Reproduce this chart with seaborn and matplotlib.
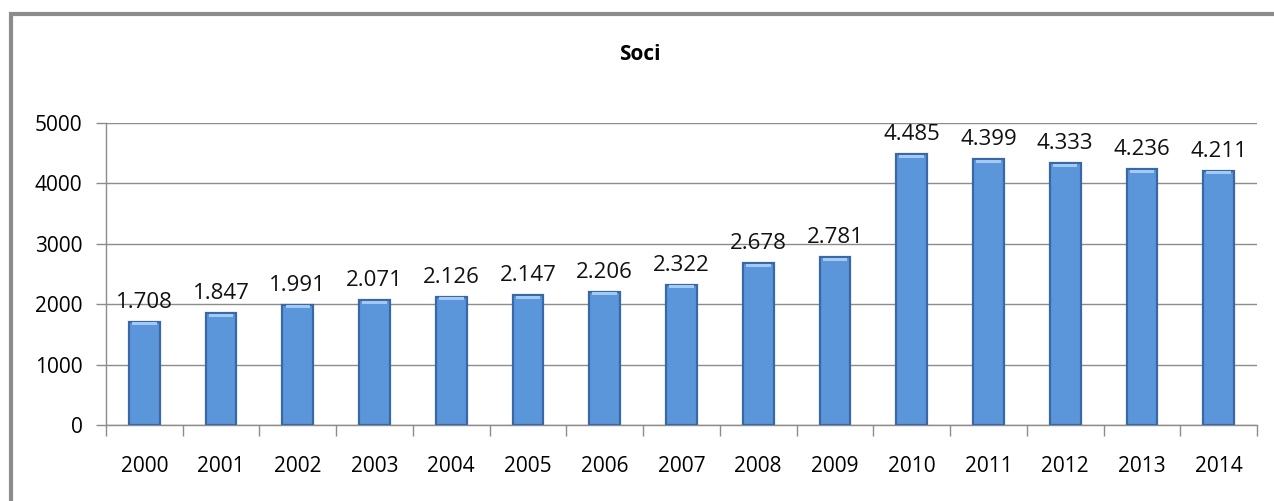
import matplotlib
matplotlib.use("Agg")
import matplotlib.pyplot as plt
import seaborn as sns
import pandas as pd
from matplotlib.patches import Rectangle

years = ["2000", "2001", "2002", "2003", "2004", "2005", "2006", "2007",
         "2008", "2009", "2010", "2011", "2012", "2013", "2014"]
soci = [1708, 1847, 1991, 2071, 2126, 2147, 2206, 2322,
        2678, 2781, 4485, 4399, 4333, 4236, 4211]
labels = ["1.708", "1.847", "1.991", "2.071", "2.126", "2.147", "2.206", "2.322",
          "2.678", "2.781", "4.485", "4.399", "4.333", "4.236", "4.211"]
yticks = [0, 1000, 2000, 3000, 4000, 5000]
title = "Soci"

sns.set_theme(style="white")
plt.rcParams['font.family'] = ['Open Sans', 'DejaVu Sans']

df = pd.DataFrame({"anno": years, "soci": soci})

fig = plt.figure(figsize=(12.74, 5.01), dpi=100)
ax = fig.add_axes([106/1274, 1-425/501, (1257-106)/1274, (425-123)/501])

sns.barplot(data=df, x="anno", y="soci", ax=ax, color="#5B96DB",
            width=0.4, edgecolor="#3A67A5", linewidth=1.6, saturation=1, zorder=3)

# highlight top of bars
for p in ax.patches:
    x0 = p.get_x(); w = p.get_width(); h = p.get_height()
    ax.add_patch(Rectangle((x0 + w*0.1, h - 60), w*0.8, 50,
                           facecolor="#A3CAF4", edgecolor="none", zorder=4))

for i, (v, lab) in enumerate(zip(soci, labels)):
    ax.text(i, v + 150, lab, ha="center", va="bottom", fontsize=16, color="#111111")

ax.set_ylim(0, 5000)
ax.set_xlim(-0.5, len(years) - 0.5)
ax.set_yticks(yticks)
ax.set_yticklabels([str(t) for t in yticks], fontsize=15, color="black")
ax.set_xticks(range(len(years)))
ax.set_xticklabels(years, fontsize=15, color="black")
ax.set_xlabel("")
ax.set_ylabel("")
ax.yaxis.grid(True, color="#8C8C8C", linewidth=1, zorder=0)
ax.set_axisbelow(True)

for s in ["top", "right"]:
    ax.spines[s].set_visible(False)
for s in ["left", "bottom"]:
    ax.spines[s].set_color("#8C8C8C")
    ax.spines[s].set_linewidth(1)

ax.tick_params(axis="y", which="major", direction="out", length=7, width=1,
               color="#8C8C8C", pad=10, left=True)
ax.set_xticks([i - 0.5 for i in range(len(years) + 1)], minor=True)
ax.tick_params(axis="x", which="major", length=0, pad=22)
ax.tick_params(axis="x", which="minor", direction="out", length=8, width=1,
               color="#8C8C8C", bottom=True)

fig.text(640/1274, 1-55/501, title, ha="center", va="center",
         fontsize=15, fontweight="bold", color="black")

fig.patches.append(Rectangle((11/1274, -0.1), 1.2, 1-14/501+0.1,
                             transform=fig.transFigure, fill=False,
                             edgecolor="#8C8C8C", linewidth=3))

fig.savefig("out.png", dpi=100, facecolor="white")
